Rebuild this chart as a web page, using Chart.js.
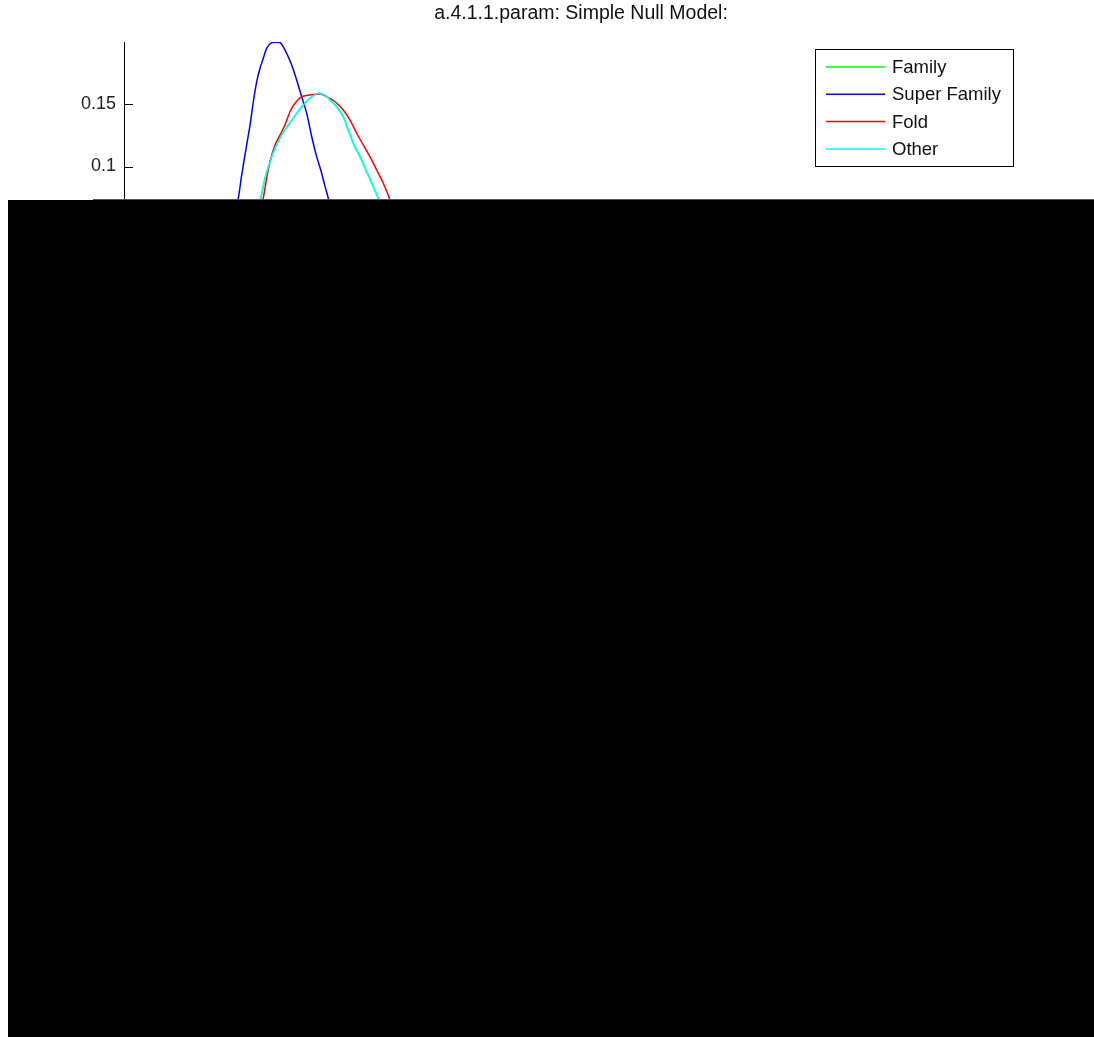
<!DOCTYPE html>
<html>
<head>
<meta charset="utf-8">
<title>a.4.1.1.param: Simple Null Model</title>
<script src="https://cdn.jsdelivr.net/npm/chart.js@4"></script>
<style>
  html, body { margin: 0; padding: 0; background: #fff; }
  #wrap { position: relative; width: 1094px; height: 1037px; }
  #cover { position: absolute; left: 8px; top: 200px; width: 1086px; height: 837px; background: #000; }
  #coverEdge { position: absolute; left: 93px; top: 199px; width: 1001px; height: 1px; background: #555; }
</style>
</head>
<body>
<div id="wrap">
  <canvas id="nullChart" width="1094" height="1037"></canvas>
  <div id="coverEdge"></div>
  <div id="cover"></div>
</div>
<script>
// 图例名称与颜色
const seriesNames = ["Family", "Super Family", "Fold", "Other"];
const seriesColors = ["#00ff00", "#0000ff", "#ff0000", "#00ffff"];

// 曲线点 (x 为任意单位 0-100, y 为密度)
const familyX = [14.4, 14.96, 15.43, 15.97, 16.52, 17.25, 17.98, 18.89, 19.62, 20.35, 21.26, 22.18, 22.54, 23.27, 23.99, 24.54, 25.09, 25.82, 26.55, 27.28, 27.81, 28.3];
const familyY = [0.060, 0.0745, 0.0905, 0.1039, 0.1146, 0.1253, 0.1333, 0.1427, 0.1494, 0.1548, 0.1588, 0.1561, 0.1534, 0.1480, 0.1400, 0.1293, 0.1186, 0.1079, 0.0958, 0.0838, 0.0745, 0.060];

const superFamilyX = [12.1, 12.51, 12.88, 13.42, 13.79, 14.15, 14.52, 14.88, 15.24, 15.61, 16.16, 17.07, 17.61, 18.35, 18.89, 19.44, 19.99, 20.54, 21.08, 21.63, 22.00, 22.35, 22.7];
const superFamilyY = [0.060, 0.0745, 0.0932, 0.1173, 0.1333, 0.1520, 0.1681, 0.1789, 0.1869, 0.1949, 0.1995, 0.1995, 0.1936, 0.1815, 0.1695, 0.1561, 0.1427, 0.1239, 0.1079, 0.0945, 0.0838, 0.0745, 0.060];

const foldX = [14.9, 15.24, 15.61, 15.97, 16.52, 17.07, 17.61, 18.16, 18.71, 19.44, 20.35, 21.44, 22.18, 23.09, 23.99, 24.73, 25.46, 26.18, 26.91, 27.65, 28.37, 29.03, 29.6];
const foldY = [0.060, 0.0745, 0.0905, 0.1039, 0.1173, 0.1253, 0.1333, 0.1440, 0.1508, 0.1561, 0.1574, 0.1582, 0.1561, 0.1520, 0.1454, 0.1373, 0.1267, 0.1173, 0.1079, 0.0972, 0.0865, 0.0745, 0.060];

const otherX = familyX.slice();
const otherY = [0.060, 0.0745, 0.0905, 0.1039, 0.1146, 0.1253, 0.1333, 0.1427, 0.1494, 0.1548, 0.1588, 0.1561, 0.1534, 0.1480, 0.1400, 0.1293, 0.1186, 0.1079, 0.0958, 0.0838, 0.0745, 0.060];

// y 轴刻度
const yTicks = [0, 0.05, 0.1, 0.15];
const yTickLabels = ["0", "0.05", "0.1", "0.15"];

const FONT = "'Liberation Sans', Arial, sans-serif";

function toPoints(xs, ys) {
    return xs.map((x, i) => ({ x: x, y: ys[i] }));
}

// MATLAB 风格: 刻度线朝内
const innerTicks = {
    id: "innerTicks",
    afterDatasetsDraw(chart) {
        const ctx = chart.ctx;
        const yScale = chart.scales.y;
        const left = chart.chartArea.left;
        ctx.save();
        ctx.strokeStyle = "#000";
        ctx.lineWidth = 1;
        yTicks.forEach(v => {
            const py = Math.round(yScale.getPixelForValue(v)) + 0.5;
            ctx.beginPath();
            ctx.moveTo(left, py);
            ctx.lineTo(left + 9, py);
            ctx.stroke();
        });
        ctx.restore();
    }
};

// 右上角图例框
const boxLegend = {
    id: "boxLegend",
    afterDraw(chart) {
        const ctx = chart.ctx;
        ctx.save();
        ctx.fillStyle = "#fff";
        ctx.fillRect(815, 49, 198, 118);
        ctx.strokeStyle = "#000";
        ctx.lineWidth = 1;
        ctx.strokeRect(815.5, 49.5, 198, 117);
        ctx.font = "18.5px " + FONT;
        ctx.textBaseline = "middle";
        ctx.fillStyle = "#111";
        chart.data.datasets.forEach((ds, i) => {
            const y = 67 + i * 27.3;
            ctx.strokeStyle = ds.borderColor;
            ctx.lineWidth = 1.5;
            ctx.beginPath();
            ctx.moveTo(826, y);
            ctx.lineTo(885, y);
            ctx.stroke();
            ctx.fillText(ds.label, 892, y + 1);
        });
        ctx.restore();
    }
};

const ctx = document.getElementById("nullChart").getContext("2d");
const chart = new Chart(ctx, {
    type: "line",
    data: {
        datasets: [
            { label: seriesNames[0], data: toPoints(familyX, familyY), borderColor: seriesColors[0], order: 3 },
            { label: seriesNames[1], data: toPoints(superFamilyX, superFamilyY), borderColor: seriesColors[1], order: 2 },
            { label: seriesNames[2], data: toPoints(foldX, foldY), borderColor: seriesColors[2], order: 1 },
            { label: seriesNames[3], data: toPoints(otherX, otherY), borderColor: seriesColors[3], order: 0 }
        ]
    },
    options: {
        responsive: false,
        animation: false,
        events: [],
        layout: { padding: { left: 0, right: 56, top: 0, bottom: 746 } },
        elements: {
            point: { radius: 0 },
            line: { borderWidth: 1.5, tension: 0.25, fill: false }
        },
        plugins: {
            legend: { display: false },
            tooltip: { enabled: false },
            title: {
                display: true,
                fullSize: false,
                text: "a.4.1.1.param: Simple Null Model:",
                color: "#111",
                font: { family: FONT, size: 19.5, weight: "normal" },
                padding: { top: 2, bottom: 16.6 }
            }
        },
        scales: {
            x: { type: "linear", min: 0, max: 100, display: false },
            y: {
                type: "linear",
                min: 0,
                max: 0.2,
                afterBuildTicks: scale => { scale.ticks = yTicks.map(v => ({ value: v })); },
                afterFit: scale => { scale.width = 124; },
                grid: { display: true, drawOnChartArea: false, drawTicks: false },
                border: { display: true, color: "#000", width: 1 },
                ticks: {
                    color: "#222",
                    padding: 8,
                    font: { family: FONT, size: 18 },
                    callback: (value, index) => yTickLabels[index]
                }
            }
        }
    },
    plugins: [innerTicks, boxLegend]
});
</script>
</body>
</html>
